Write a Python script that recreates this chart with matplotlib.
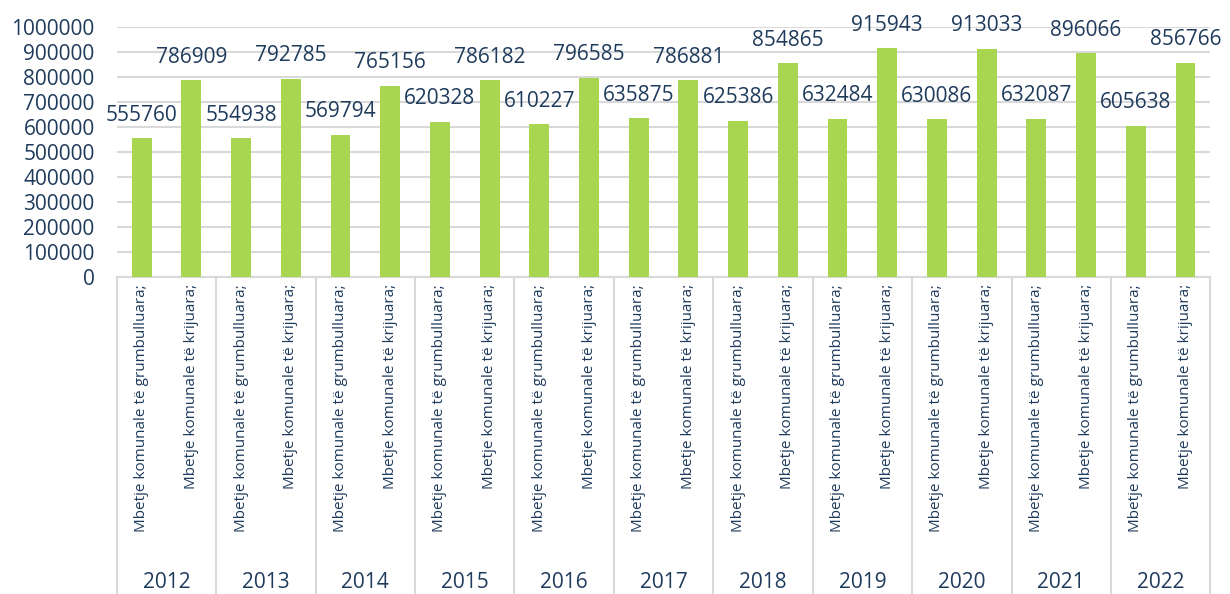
import matplotlib.pyplot as plt
import matplotlib.transforms as mtransforms
import numpy as np

years = ['2012', '2013', '2014', '2015', '2016', '2017', '2018', '2019', '2020', '2021', '2022']
grumbulluara = [555760, 554938, 569794, 620328, 610227, 635875, 625386, 632484, 630086, 632087, 605638]
krijuara = [786909, 792785, 765156, 786182, 796585, 786881, 854865, 915943, 913033, 896066, 856766]
cat_labels = ['Mbetje komunale të grumbulluara;', 'Mbetje komunale të krijuara;']

bar_color = '#A9D651'
text_color = '#1F3B5C'
grid_color = '#D9D9D9'

plt.rcParams['font.family'] = ['Open Sans', 'DejaVu Sans']

values = []
for g, k in zip(grumbulluara, krijuara):
    values += [g, k]
x = np.arange(len(values))

fig = plt.figure(figsize=(12.3, 5.94), dpi=100)
ax = fig.add_axes([0.095, 0.5337, 0.889, 0.4208])

ax.bar(x, values, width=0.4, color=bar_color, zorder=3)
for xi, v in zip(x, values):
    ax.annotate(str(v), (xi, v), xytext=(0, 9), textcoords='offset points',
                ha='center', va='bottom', fontsize=15, color=text_color)

ax.set_ylim(0, 1000000)
ax.set_xlim(-0.5, len(values) - 0.5)
ax.set_yticks(np.arange(0, 1000001, 100000))
ax.set_yticklabels([str(t) for t in range(0, 1000001, 100000)], fontsize=15, color=text_color)
ax.yaxis.grid(True, color=grid_color, linewidth=1.5, zorder=0)
ax.tick_params(axis='y', length=0, pad=16)
ax.tick_params(axis='x', length=0, labelbottom=False)
for s in ['top', 'right', 'left']:
    ax.spines[s].set_visible(False)
ax.spines['bottom'].set_color(grid_color)
ax.spines['bottom'].set_linewidth(1.5)

trans = mtransforms.blended_transform_factory(ax.transData, fig.transFigure)
for i, xi in enumerate(x):
    ax.text(xi, 1 - 284 / 594, cat_labels[i % 2], rotation=90, ha='center', va='top',
            fontsize=11, color=text_color, transform=trans)
for j, y in enumerate(years):
    ax.text(2 * j + 0.5, 1 - 582 / 594, y, ha='center', va='center', fontsize=15,
            color=text_color, transform=trans)
for b in np.arange(-0.5, len(values), 2):
    ax.plot([b, b], [0, 1 - 277 / 594], color=grid_color, linewidth=1.5,
            transform=trans, clip_on=False)

fig.savefig('out.png', dpi=100)
